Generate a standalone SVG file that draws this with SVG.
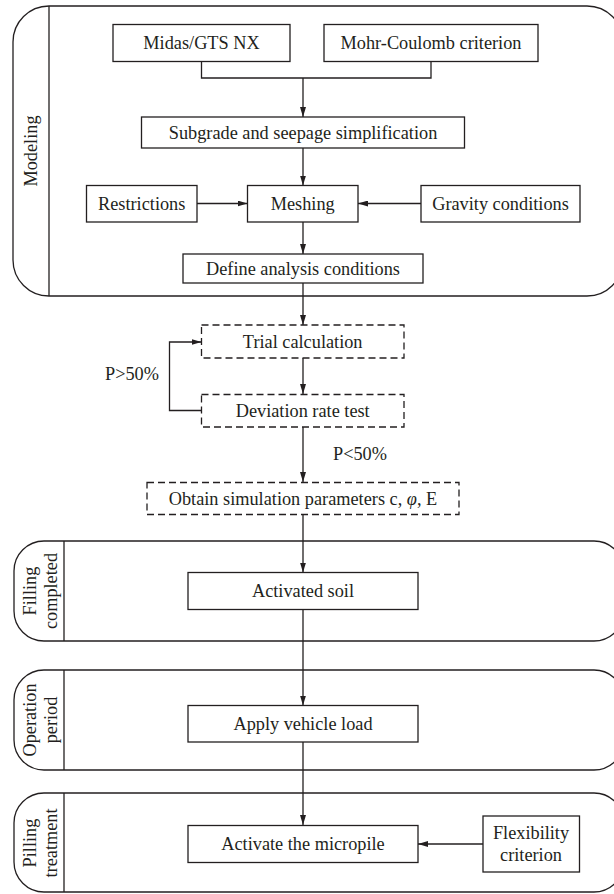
<svg xmlns="http://www.w3.org/2000/svg" width="614" height="894" viewBox="0 0 614 894">
<defs>
<marker id="arr" viewBox="0 0 10 6" refX="10" refY="3" markerWidth="10" markerHeight="6" markerUnits="userSpaceOnUse" orient="auto">
<path d="M0,0 L10,3 L0,6 Z" fill="#231f20"/>
</marker>
</defs>
<style>
.box{fill:#fff;stroke:#231f20;stroke-width:1.3}
.dash{fill:#fff;stroke:#231f20;stroke-width:1.3;stroke-dasharray:7 4}
.frame{fill:none;stroke:#231f20;stroke-width:1.3}
.ln{fill:none;stroke:#231f20;stroke-width:1.3}
text{font-family:"Liberation Serif","Times New Roman",serif;font-size:18.3px;fill:#231f20;text-anchor:middle;dominant-baseline:central}
</style>
<rect width="614" height="894" fill="#fff"/>

<g id="frame-modeling">
<rect class="frame" x="13" y="6" width="610" height="290" rx="36" ry="36"/>
<line class="ln" x1="49" y1="6" x2="49" y2="296"/>
<text transform="translate(31,151) rotate(-90)">Modeling</text>
</g>
<g id="frame-filling">
<rect class="frame" x="14" y="541" width="610" height="100" rx="30" ry="30"/>
<line class="ln" x1="64" y1="541" x2="64" y2="641"/>
<text transform="translate(30,591) rotate(-90)">Filling</text>
<text transform="translate(51,591) rotate(-90)">completed</text>
</g>
<g id="frame-operation">
<rect class="frame" x="14" y="670" width="610" height="100" rx="30" ry="30"/>
<line class="ln" x1="64" y1="670" x2="64" y2="770"/>
<text transform="translate(30,720) rotate(-90)">Operation</text>
<text transform="translate(51,720) rotate(-90)">period</text>
</g>
<g id="frame-pilling">
<rect class="frame" x="14" y="793" width="610" height="99" rx="30" ry="30"/>
<line class="ln" x1="64" y1="793" x2="64" y2="892"/>
<text transform="translate(30,843) rotate(-90)">Pilling</text>
<text transform="translate(51,843) rotate(-90)">treatment</text>
</g>

<g id="connectors">
<polyline class="ln" points="201.5,61.5 201.5,78 431,78 431,61.5"/>
<line class="ln" x1="303" y1="78" x2="303" y2="117" marker-end="url(#arr)"/>
<line class="ln" x1="303" y1="148" x2="303" y2="185.5" marker-end="url(#arr)"/>
<line class="ln" x1="197" y1="203.5" x2="247.5" y2="203.5" marker-end="url(#arr)"/>
<line class="ln" x1="421" y1="203.5" x2="358" y2="203.5" marker-end="url(#arr)"/>
<line class="ln" x1="303" y1="222" x2="303" y2="254" marker-end="url(#arr)"/>
<line class="ln" x1="303" y1="283" x2="303" y2="325" marker-end="url(#arr)"/>
<line class="ln" x1="303" y1="358" x2="303" y2="394" marker-end="url(#arr)"/>
<polyline class="ln" points="201.5,410.5 169.5,410.5 169.5,342 201.5,342" marker-end="url(#arr)"/>
<line class="ln" x1="303" y1="427" x2="303" y2="482" marker-end="url(#arr)"/>
<line class="ln" x1="303" y1="514.5" x2="303" y2="572.5" marker-end="url(#arr)"/>
<line class="ln" x1="303" y1="609.5" x2="303" y2="705.5" marker-end="url(#arr)"/>
<line class="ln" x1="303" y1="742" x2="303" y2="825" marker-end="url(#arr)"/>
<line class="ln" x1="483" y1="844" x2="418" y2="844" marker-end="url(#arr)"/>
<text x="132" y="374">P&gt;50%</text>
<text x="360" y="454">P&lt;50%</text>
</g>

<g id="n-midas"><rect class="box" x="113" y="24.5" width="177" height="37"/><text x="201.5" y="43">Midas/GTS NX</text></g>
<g id="n-mohr"><rect class="box" x="324" y="24.5" width="214" height="37"/><text x="431" y="43">Mohr-Coulomb criterion</text></g>
<g id="n-subgrade"><rect class="box" x="141.5" y="117" width="323" height="31"/><text x="303" y="132.5">Subgrade and seepage simplification</text></g>
<g id="n-restrictions"><rect class="box" x="86.5" y="185.5" width="110.5" height="36.5"/><text x="141.7" y="203.5">Restrictions</text></g>
<g id="n-meshing"><rect class="box" x="247.5" y="185.5" width="110.5" height="36.5"/><text x="302.7" y="203.5">Meshing</text></g>
<g id="n-gravity"><rect class="box" x="421" y="185.5" width="159" height="36.5"/><text x="500.5" y="203.5">Gravity conditions</text></g>
<g id="n-define"><rect class="box" x="183" y="254" width="240" height="29"/><text x="303" y="268.5">Define analysis conditions</text></g>
<g id="n-trial"><rect class="dash" x="201.5" y="325" width="202.5" height="33"/><text x="302.7" y="341.5">Trial calculation</text></g>
<g id="n-deviation"><rect class="dash" x="201.5" y="394.5" width="202.5" height="32.5"/><text x="302.7" y="410.5">Deviation rate test</text></g>
<g id="n-obtain"><rect class="dash" x="147" y="482.5" width="312" height="32"/><text x="303" y="498.5">Obtain simulation parameters c, <tspan font-style="italic">φ</tspan>, E</text></g>
<g id="n-activated"><rect class="box" x="188" y="572.5" width="230" height="37"/><text x="303" y="591">Activated soil</text></g>
<g id="n-apply"><rect class="box" x="188" y="705.5" width="230" height="36.5"/><text x="303" y="724">Apply vehicle load</text></g>
<g id="n-micropile"><rect class="box" x="188" y="825.5" width="230" height="37"/><text x="303" y="844">Activate the micropile</text></g>
<g id="n-flex"><rect class="box" x="483" y="816" width="96.5" height="56"/><text x="531" y="833">Flexibility</text><text x="531" y="855">criterion</text></g>
</svg>
